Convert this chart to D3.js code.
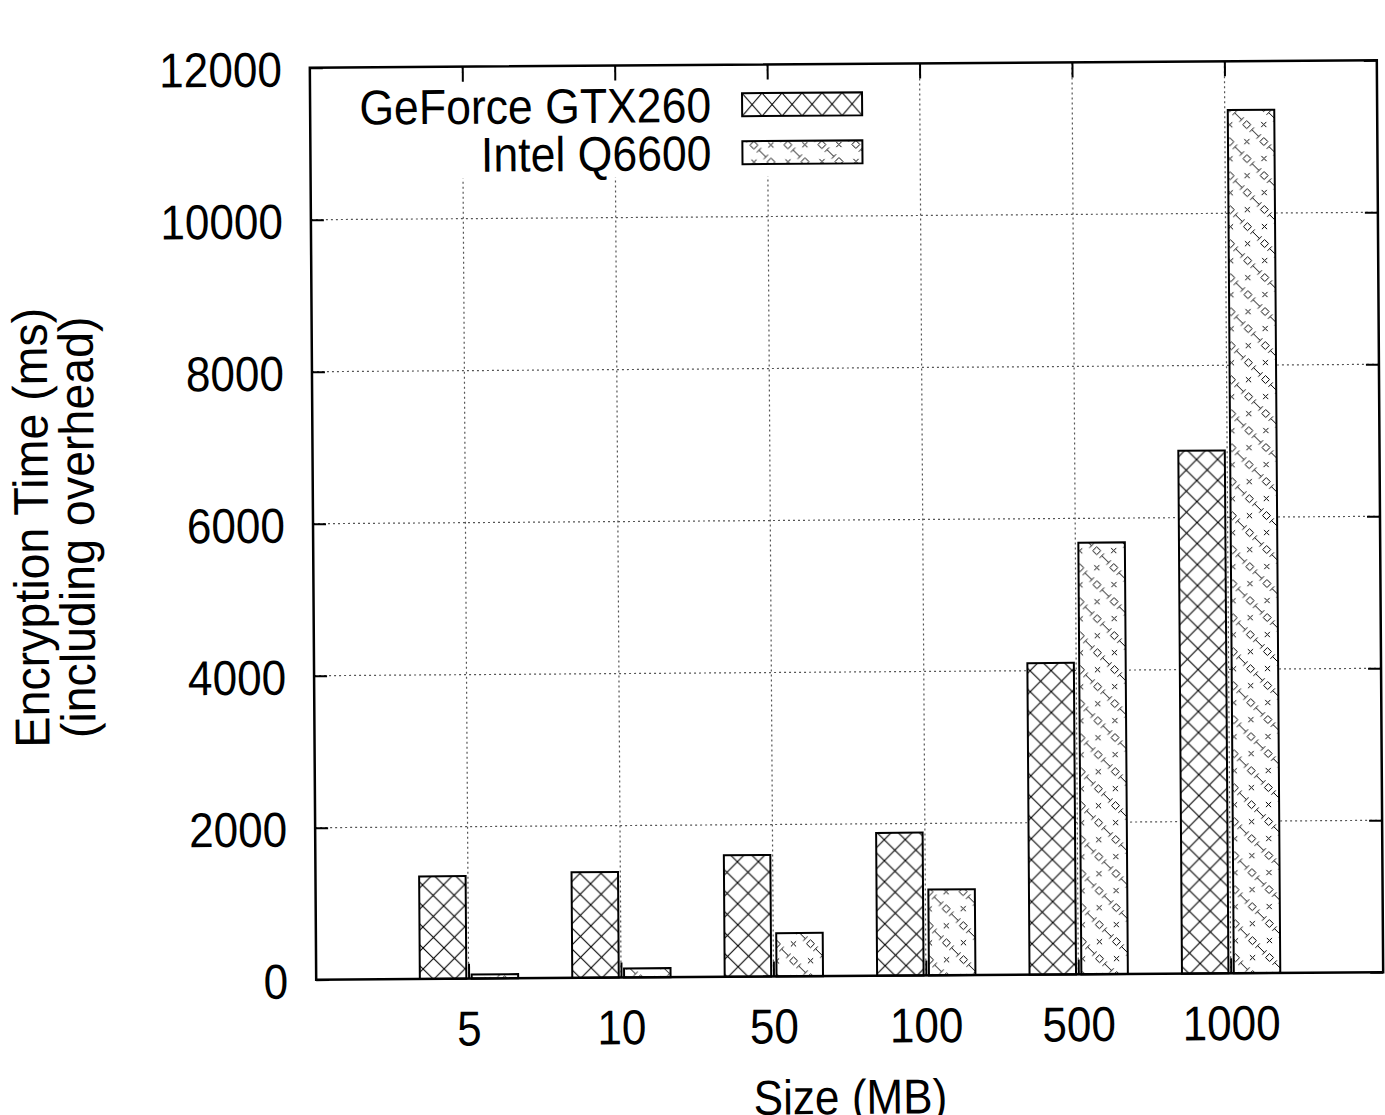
<!DOCTYPE html>
<html><head><meta charset="utf-8">
<script src="https://cdn.jsdelivr.net/npm/d3@7"></script>
<style>body{margin:0;background:#fff}</style>
</head><body>
<script>
// ---- data ----
const categories = ["5", "10", "50", "100", "500", "1000"];
const gtxValues = [1350, 1390, 1600, 1880, 4100, 6880];
const intelValues = [55, 120, 570, 1130, 5680, 11360];
const seriesNames = ["GeForce GTX260", "Intel Q6600"];
const yTicks = [0, 2000, 4000, 6000, 8000, 10000, 12000];
const xLabel = "Size (MB)";
const yLabelLines = ["Encryption Time (ms)", "(including overhead)"];

// ---- layout ----
const W = 1385, H = 1115;
const L = 313, R = 1380, T = 64, B = 976;
const FONT = "'Liberation Sans', Arial, Helvetica, sans-serif";
const FS = 49;

const svg = d3.select("body").append("svg").attr("width", W).attr("height", H)
  .style("font-family", FONT);
svg.append("rect").attr("width", W).attr("height", H).attr("fill", "#fff");
const defs = svg.append("defs");

// crosshatch pattern (GTX)
function crossPattern(id, w, h, px, py) {
  const p = defs.append("pattern").attr("id", id).attr("patternUnits", "userSpaceOnUse")
    .attr("width", w).attr("height", h).attr("x", px).attr("y", py);
  p.append("rect").attr("width", w).attr("height", h).attr("fill", "#fff");
  p.append("path").attr("d", `M0,0L${w},${h}M${w},0L0,${h}`)
    .attr("stroke", "#000").attr("stroke-width", 1.1).attr("fill", "none");
}
crossPattern("hatchGtx", 21, 21, 0, 0);
crossPattern("hatchGtxLeg", 20, 23, 745, 92.5);

// symbol pattern (Intel)
function symbolPattern(id, s) {
  const p = defs.append("pattern").attr("id", id).attr("patternUnits", "userSpaceOnUse")
    .attr("width", s).attr("height", s);
  p.append("rect").attr("width", s).attr("height", s).attr("fill", "#fff");
  const q = s / 4;
  const diamond = (cx, cy, r) => `M${cx - r},${cy}L${cx},${cy - r}L${cx + r},${cy}L${cx},${cy + r}Z`;
  const cross = (cx, cy, r) => `M${cx - r},${cy - r}L${cx + r},${cy + r}M${cx + r},${cy - r}L${cx - r},${cy + r}`;
  const ibeam = (cx, cy, r, c) => `M${cx - r},${cy - r}L${cx + r},${cy + r}` +
    `M${cx - r - c},${cy - r + c}L${cx - r + c},${cy - r - c}` +
    `M${cx + r - c},${cy + r + c}L${cx + r + c},${cy + r - c}`;
  let d = diamond(q, q, 4) + diamond(3 * q, 3 * q, 4) +
    cross(3 * q, q, 2.6) + cross(q, 3 * q, 2.6);
  for (const [cx, cy] of [[0, 0], [s, 0], [0, s], [s, s], [2 * q, 2 * q]]) d += ibeam(cx, cy, 3.4, 2.2);
  p.append("path").attr("d", d).attr("stroke", "#000").attr("stroke-width", 1).attr("fill", "none");
}
symbolPattern("hatchIntel", 34);

const g = svg.append("g").attr("transform", "rotate(-0.4,846.5,520)");

const x = d3.scaleLinear().domain([-1, categories.length]).range([L, R]);
const y = d3.scaleLinear().domain([0, 12000]).range([B, T]);
const idx = d3.range(categories.length);

function condense(sel, s) {
  sel.each(function () {
    const t = d3.select(this);
    const xa = +t.attr("x") || 0;
    const prev = t.attr("transform") || "";
    t.attr("transform", `${prev} translate(${xa},0) scale(${s},1) translate(${-xa},0)`);
  });
}

// grid
const grid = g.append("g").attr("stroke", "#555").attr("stroke-width", 1.2)
  .attr("stroke-dasharray", "2,3").attr("fill", "none");
grid.selectAll("line.h").data(yTicks.filter(v => v > 0 && v < 12000)).join("line")
  .attr("x1", L).attr("x2", R).attr("y1", d => y(d)).attr("y2", d => y(d));
grid.selectAll("line.v").data(idx).join("line")
  .attr("x1", d => x(d)).attr("x2", d => x(d)).attr("y1", B).attr("y2", T);

// bars
const barW = 0.305, gap = 0.015;
const series = [
  { vals: gtxValues, fill: "url(#hatchGtx)", off: -gap - barW },
  { vals: intelValues, fill: "url(#hatchIntel)", off: gap + 0.005 }
];
series.forEach((s) => {
  g.append("g").selectAll("rect").data(idx).join("rect")
    .attr("x", i => x(i + s.off))
    .attr("width", x(barW) - x(0))
    .attr("y", i => y(s.vals[i]))
    .attr("height", i => y(0) - y(s.vals[i]))
    .attr("fill", s.fill).attr("stroke", "#000").attr("stroke-width", 2);
});

// legend
g.append("rect").attr("x", 350).attr("y", 70).attr("width", 525).attr("height", 106).attr("fill", "#fff");
const legRows = [104, 152];
const legFills = ["url(#hatchGtxLeg)", "url(#hatchIntel)"];
seriesNames.forEach((n, i) => {
  g.append("text").attr("x", 714).attr("y", legRows[i]).attr("dy", "0.35em")
    .attr("text-anchor", "end").attr("font-size", FS).text(n).call(condense, 0.91);
  g.append("rect").attr("x", 745).attr("y", legRows[i] - 11.5).attr("width", 120).attr("height", 23)
    .attr("fill", legFills[i]).attr("stroke", "#000").attr("stroke-width", 2);
});

// axes
function styleAxis(sel) {
  sel.select(".domain").remove();
  sel.selectAll(".tick line").attr("stroke", "#000").attr("stroke-width", 2);
  sel.selectAll(".tick text").attr("font-size", FS).attr("fill", "#000").attr("font-family", FONT);
}
g.append("g").attr("transform", `translate(${L},0)`)
  .call(d3.axisLeft(y).tickValues(yTicks).tickFormat(d3.format("d")).tickSize(-13).tickPadding(28))
  .call(styleAxis).selectAll(".tick text").attr("dy", "0.37em").call(condense, 0.9);
g.append("g").attr("transform", `translate(${R},0)`)
  .call(d3.axisRight(y).tickValues(yTicks).tickFormat("").tickSize(-13)).call(styleAxis);
g.append("g").attr("transform", `translate(0,${B})`)
  .call(d3.axisBottom(x).tickValues(idx).tickFormat(i => categories[i]).tickSize(-15).tickPadding(32))
  .call(styleAxis).selectAll(".tick text").call(condense, 0.9);
g.append("g").attr("transform", `translate(0,${T})`)
  .call(d3.axisTop(x).tickValues(idx).tickFormat("").tickSize(-15)).call(styleAxis);

// border
g.append("rect").attr("x", L).attr("y", T).attr("width", R - L).attr("height", B - T)
  .attr("fill", "none").attr("stroke", "#000").attr("stroke-width", 2.5);

// axis labels
g.append("text").attr("x", (L + R) / 2).attr("y", 1114).attr("text-anchor", "middle")
  .attr("font-size", FS).text(xLabel).call(condense, 0.9);
const yl = g.append("text").attr("transform", "translate(48,522) rotate(-90) scale(0.95,1)")
  .attr("text-anchor", "middle").attr("font-size", FS);
yl.append("tspan").attr("x", 0).attr("y", 0).text(yLabelLines[0]);
yl.append("tspan").attr("x", 0).attr("y", 46).text(yLabelLines[1]);
</script>
</body></html>
